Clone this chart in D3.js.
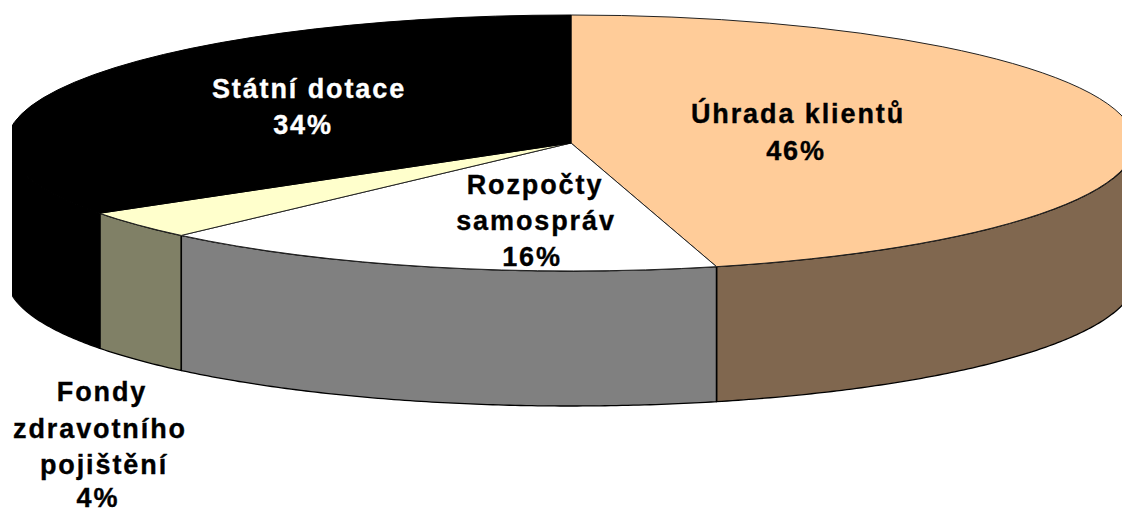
<!DOCTYPE html>
<html><head><meta charset="utf-8">
<script src="https://cdn.jsdelivr.net/npm/d3@7/dist/d3.min.js"></script>
<style>html,body{margin:0;padding:0;background:#fff;overflow:hidden}svg{display:block}
text{font-family:"Liberation Sans",Arial,sans-serif;font-weight:bold;font-size:27px;letter-spacing:1.9px;text-anchor:middle;stroke-width:.35px;paint-order:stroke}</style>
</head><body><svg id="c" width="1122" height="513"></svg>
<script>
(function(){
const categories = ["Úhrada klientů","Rozpočty samospráv","Fondy zdravotního pojištění","Státní dotace"];
const values = [45.85,16.3,3.6,34.25];
const percentLabels = ["46%","16%","4%","34%"];
const labelLines = [["Úhrada klientů"],["Rozpočty","samospráv"],["Fondy","zdravotního","pojištění"],["Státní dotace"]];
const topColors = ["#FFCC99","#FFFFFF","#FFFFCC","#000000"];
const wallColors = ["#80674F","#808080","#808066","#000000"];
const labelColors = ["#000","#000","#000","#fff"];

const cx=571,cy=143,rx=564,ry=128,depth=135;
const labelLayout = [
  [[798,123],[796,160]],
  [[535,194],[536,230],[532,266]],
  [[102,401],[100,438],[104,474],[98,507]],
  [[309,98],[303,134]]
];

const svg=d3.select("#c");
svg.append("clipPath").attr("id","clipDisk").append("rect")
  .attr("x",12).attr("y",0).attr("width",1110).attr("height",513);
const pie=d3.pie().sort(null).value(d=>d);
const slices=pie(values);
const px=d3.scaleLinear().domain([-1,1]).range([cx-rx,cx+rx]);
const py=d3.scaleLinear().domain([-1,1]).range([cy-ry,cy+ry]);
const X=a=>px(Math.sin(a)), Y=a=>py(-Math.cos(a));
const disk=svg.append("g").attr("clip-path","url(#clipDisk)");

const line=d3.line();
const wall=disk.append("g");
slices.forEach((s,i)=>{
  const a0=Math.max(s.startAngle,Math.PI/2), a1=Math.min(s.endAngle,Math.PI*1.5);
  if(a1<=a0) return;
  const as=d3.range(a0,a1,0.01).concat([a1]);
  const pts=as.map(a=>[X(a),Y(a)]).concat(as.slice().reverse().map(a=>[X(a),Y(a)+depth]));
  wall.append("path").attr("d",line(pts)+"Z").attr("fill",wallColors[i])
      .attr("stroke","#000").attr("stroke-width",1.3);
  wall.append("line").attr("x1",X(a1)).attr("x2",X(a1)).attr("y1",Y(a1)).attr("y2",Y(a1)+depth)
      .attr("stroke","#000").attr("stroke-width",2);
});

const arc=d3.arc().innerRadius(0).outerRadius(1);
const topFace=disk.append("g").attr("transform",`translate(${cx},${cy}) scale(${rx},${ry})`);
topFace.selectAll("path").data(slices).join("path").attr("d",arc)
  .attr("fill",(d,i)=>topColors[i]).attr("stroke",(d,i)=>i===3?"#000":"#222").attr("stroke-width",1)
  .attr("vector-effect","non-scaling-stroke");

const lab=svg.append("g");
categories.forEach((c,i)=>{
  const lines=labelLines[i].concat([percentLabels[i]]);
  lines.forEach((t,j)=>{
    lab.append("text").attr("x",labelLayout[i][j][0]).attr("y",labelLayout[i][j][1])
      .attr("fill",labelColors[i]).attr("stroke",labelColors[i]).text(t);
  });
});
})();
</script></body></html>
